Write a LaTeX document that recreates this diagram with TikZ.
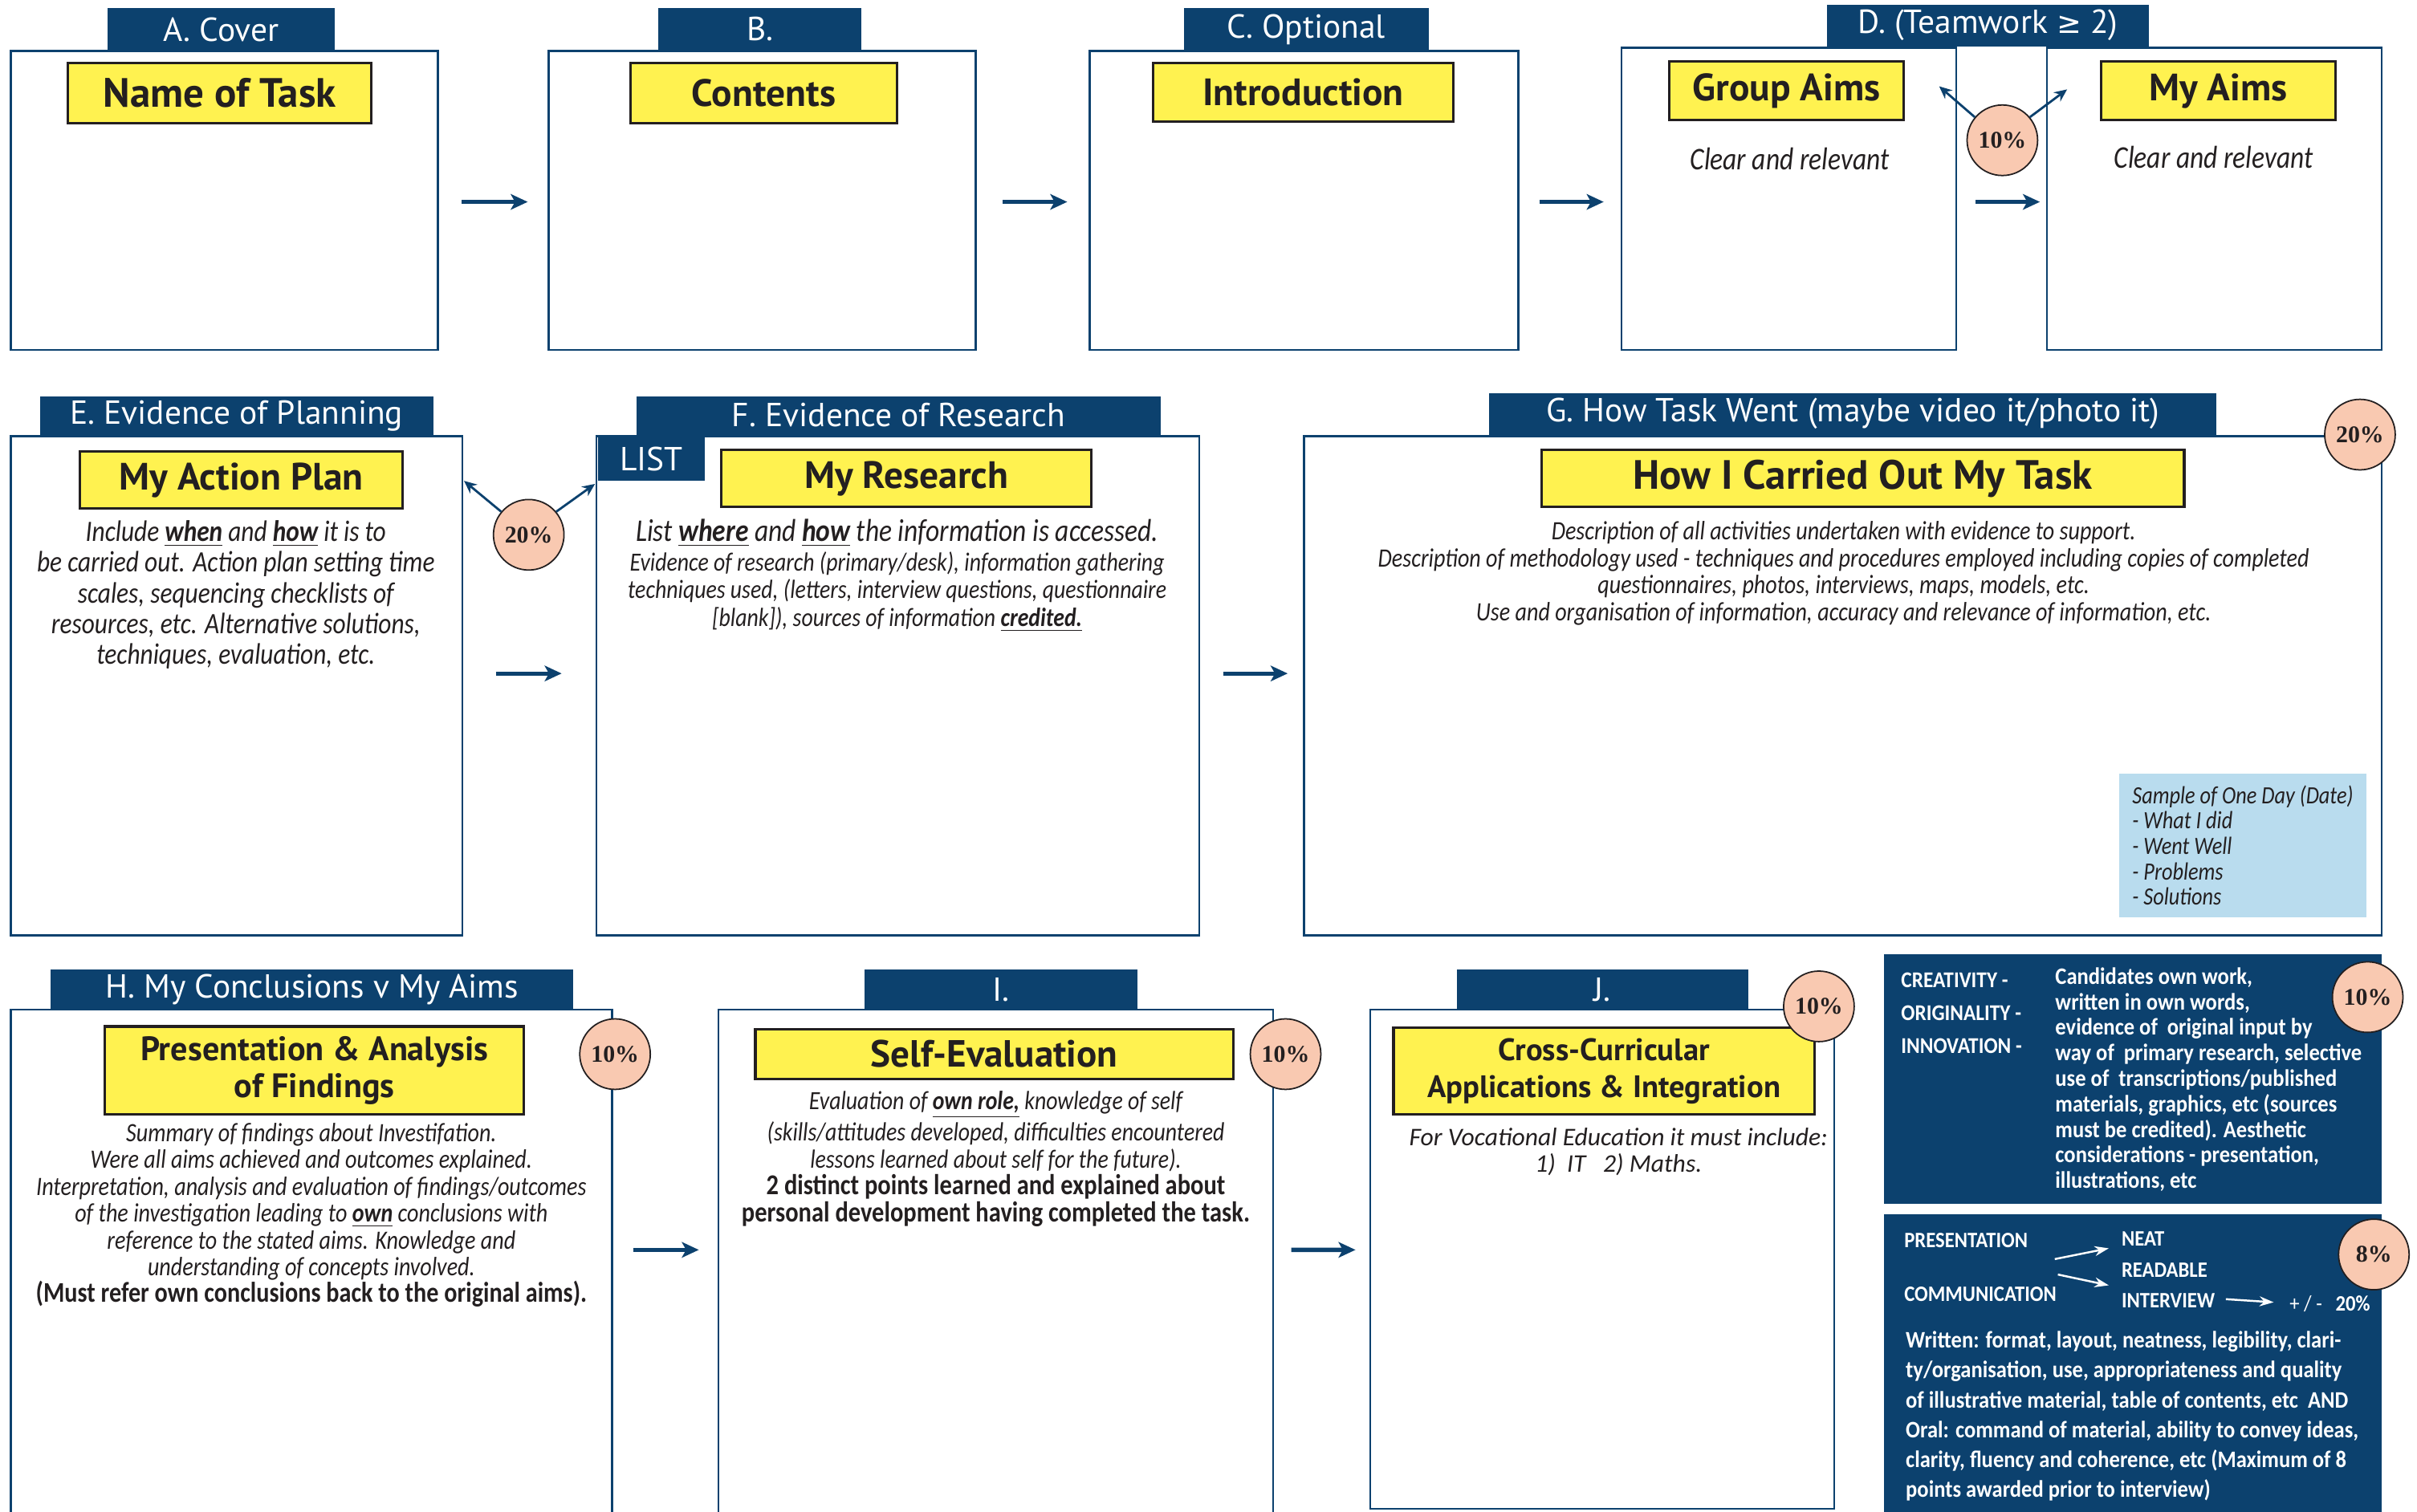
\documentclass[tikz,border=0pt]{standalone}
\usepackage{fontspec}
\usetikzlibrary{fit,calc,arrows.meta}
\setmainfont{Carlito}
\newfontfamily\hdf{PT Sans}
\newfontfamily\bodyf{Carlito}[FakeStretch=0.85]
\newfontfamily\condf{Carlito}[FakeStretch=0.9]
\newfontfamily\pctf{Liberation Serif}
\newfontfamily\symf{DejaVu Sans}
\definecolor{navy}{RGB}{12,65,110}
\definecolor{yel}{RGB}{255,242,80}
\definecolor{ink}{RGB}{35,31,32}
\definecolor{peach}{RGB}{249,201,177}
\definecolor{skyb}{RGB}{185,220,238}
\newcommand\ub[1]{\underline{\textbf{#1}}}
\tikzset{
  hdr/.style={fill=navy, inner sep=0pt},
  htxt/.style={text=white, inner sep=0pt, font=\hdf\fontsize{11.8}{13}\selectfont},
  frame/.style={draw=navy, line width=0.7pt, fill=white, inner sep=0pt},
  ybox/.style={draw=ink, line width=0.9pt, fill=yel, inner sep=0pt},
  ytxt/.style={inner sep=0pt, text=ink, align=center, font=\hdf\bfseries\fontsize{13.5}{15}\selectfont},
  pct/.style={circle, draw=ink, line width=0.5pt, fill=peach, minimum size=25pt, inner sep=0pt,
    text=ink, font=\pctf\bfseries\fontsize{8.5}{10}\selectfont},
  arr/.style={draw=navy, line width=1.5pt, -{Stealth[length=6pt,width=5.5pt,inset=1.5pt]}},
  tarr/.style={draw=navy, line width=0.8pt, -{Stealth[length=4.5pt,width=4pt]}},
  warr/.style={draw=white, line width=0.7pt, -{Stealth[length=5pt,width=3.5pt]}},
  body/.style={text=ink, align=center, inner sep=0pt},
  wtxt/.style={text=white, inner sep=0pt, align=left},
}
\begin{document}
\begin{tikzpicture}[x=0.019203cm,y=-0.019203cm]
\useasboundingbox (0,0) rectangle (1568,981);
\clip (0,0) rectangle (1568,981);
% ---------------- Row 1 ----------------
\node[frame, fit={(7,33)(284,227)}] (A) {};
\node[hdr, fit={(70,5)(217,33)}] (Ah) {};
\node[htxt] (Ahx) at (Ah.center) {A. Cover};
\node[ybox, fit={(44,41)(241,80)}] (At) {};
\node[ytxt, font=\hdf\bfseries\fontsize{14.5}{16}\selectfont] (Atx) at (At.center) {Name of Task};

\node[frame, fit={(356,33)(633,227)}] (B) {};
\node[hdr, fit={(427,5)(559,33)}] (Bh) {};
\node[htxt] (Bhx) at (Bh.center) {B.};
\node[ybox, fit={(409,41)(582,80)}] (Bt) {};
\node[ytxt] (Btx) at (Bt.center) {Contents};

\node[frame, fit={(707,33)(985,227)}] (C) {};
\node[hdr, fit={(768,5)(927,33)}] (Ch) {};
\node[htxt] (Chx) at (Ch.center) {C. Optional};
\node[ybox, fit={(748,41)(943,79)}] (Ct) {};
\node[ytxt] (Ctx) at (Ct.center) {Introduction};

\node[frame, fit={(1052,31)(1269,227)}] (DG) {};
\node[frame, fit={(1328,31)(1545,227)}] (DM) {};
\node[hdr, fit={(1185,3)(1394,30)}] (Dh) {};
\node[htxt] (Dhx) at (Dh.center) {D. (Teamwork {\symf\fontsize{10.5}{12}\selectfont≥} 2)};
\node[ybox, fit={(1083,40)(1235,78)}] (DGt) {};
\node[ytxt] (DGtx) at (DGt.center) {Group Aims};
\node[ybox, fit={(1363,40)(1515,78)}] (DMt) {};
\node[ytxt] (DMtx) at (DMt.center) {My Aims};
\node[body, font=\bodyf\itshape\fontsize{11.2}{12}\selectfont] (DGb) at (1161,103) {Clear and relevant};
\node[body, font=\bodyf\itshape\fontsize{11.2}{12}\selectfont] (DMb) at (1436,102) {Clear and relevant};
\node[pct] (pD) at (1299,91) {10\%};
\coordinate (cD1) at (1258,56);
\coordinate (cD2) at (1341,58);
\draw[tarr] (pD.140) -- (cD1);
\draw[tarr] (pD.40) -- (cD2);

\draw[arr] ($(A.east)+(15,1)$) -- ($(B.west)+(-13,1)$);
\draw[arr] ($(B.east)+(17,1)$) -- ($(C.west)+(-14,1)$);
\draw[arr] ($(C.east)+(13,1)$) -- ($(DG.west)+(-11,2)$);
\draw[arr] ($(DG.east)+(12,2)$) -- ($(DM.west)+(-4,2)$);

% ---------------- Row 2 ----------------
\node[frame, fit={(7,283)(300,607)}] (E) {};
\node[hdr, fit={(26,257)(281,283)}] (Eh) {};
\node[htxt] (Ehx) at (Eh.center) {E. Evidence of Planning};
\node[ybox, fit={(52,293)(261,330)}] (Et) {};
\node[ytxt] (Etx) at (Et.center) {My Action Plan};
\node[body, font=\bodyf\itshape\fontsize{10.5}{10.9}\selectfont] (Eb) at (153,386)
  {Include \ub{when} and \ub{how} it is to\\ be carried out. Action plan setting time\\ scales, sequencing checklists of\\ resources, etc. Alternative solutions,\\ techniques, evaluation, etc.};
\node[pct] (pE) at (343,347) {20\%};
\coordinate (cE1) at (301,312);
\coordinate (cE2) at (386,314);
\draw[tarr] (pE.140) -- (cE1);
\draw[tarr] (pE.40) -- (cE2);

\node[frame, fit={(387,283)(778,607)}] (F) {};
\node[hdr, fit={(413,257)(753,282)}] (Fh) {};
\node[htxt] (Fhx) at (Fh.center) {F. Evidence of Research};
\node[hdr, fit={(388,284)(457,312)}] (FL) {};
\node[htxt] (FLx) at (FL.center) {LIST};
\node[ybox, fit={(468,292)(708,329)}] (Ft) {};
\node[ytxt] (Ftx) at (Ft.center) {My Research};
\node[body, font=\bodyf\itshape\fontsize{11.2}{12}\selectfont] (Fb1) at (582,346)
  {List \ub{where} and \ub{how} the information is accessed.};
\node[body, font=\bodyf\itshape\fontsize{9.3}{9.8}\selectfont] (Fb2) at (582,384)
  {Evidence of research (primary/desk), information gathering\\ techniques used, (letters, interview questions, questionnaire\\{}[blank]), sources of information \ub{credited.}};

\node[frame, fit={(846,283)(1545,607)}] (G) {};
\node[hdr, fit={(966,255)(1438,282)}] (Gh) {};
\node[htxt] (Ghx) at (Gh.center) {G. How Task Went (maybe video it/photo it)};
\node[ybox, fit={(1000,292)(1417,329)}] (Gt) {};
\node[ytxt, font=\hdf\bfseries\fontsize{14.5}{16}\selectfont] (Gtx) at (Gt.center) {How I Carried Out My Task};
\node[body, font=\bodyf\itshape\fontsize{9.4}{9.5}\selectfont] (Gb) at (1196,372)
  {Description of all activities undertaken with evidence to support.\\ Description of methodology used - techniques and procedures employed including copies of completed\\ questionnaires, photos, interviews, maps, models, etc.\\ Use and organisation of information, accuracy and relevance of information, etc.};
\node[fill=skyb, inner sep=0pt, fit={(1375,502)(1535,595)}] (GS) {};
\node[body, align=left, anchor=west, font=\bodyf\itshape\fontsize{8.8}{9}\selectfont] (GSt) at (1383,548.5)
  {Sample of One Day (Date)\\ - What I did\\ - Went Well\\ - Problems\\ - Solutions};
\node[pct] (pG) at (1531,282) {20\%};

\draw[arr] ($(E.east)+(21,-8)$) -- ($(F.west)+(-22,-8)$);
\draw[arr] ($(F.east)+(15,-8)$) -- ($(G.west)+(-10,-8)$);

% ---------------- Row 3 ----------------
\node[frame, fit={(7,655)(397,1000)}] (H) {};
\node[hdr, fit={(33,629)(372,655)}] (Hh) {};
\node[htxt] (Hhx) at (Hh.center) {H. My Conclusions v My Aims};
\node[ybox, fit={(68,666)(340,723)}] (Ht) {};
\node[ytxt, font=\hdf\bfseries\fontsize{12}{13}\selectfont] (Htx) at (Ht.center) {Presentation \& Analysis\\of Findings};
\node[body, font=\bodyf\itshape\fontsize{9.4}{9.5}\selectfont] (Hb) at (202,788.5)
  {Summary of findings about Investifation.\\ Were all aims achieved and outcomes explained.\\ Interpretation, analysis and evaluation of findings/outcomes\\ of the investigation leading to \ub{own} conclusions with\\ reference to the stated aims. Knowledge and\\ understanding of concepts involved.\\ {\upshape\bfseries\fontsize{10.1}{9.5}\selectfont (Must refer own conclusions back to the original aims).}};
\node[pct] (pH) at (399,684) {10\%};

\node[frame, fit={(466,655)(826,1000)}] (I) {};
\node[hdr, fit={(561,629)(738,655)}] (Ih) {};
\node[htxt] (Ihx) at (Ih.center) {I.};
\node[ybox, fit={(490,668)(800,700)}] (It) {};
\node[ytxt, font=\hdf\bfseries\fontsize{13.4}{15}\selectfont] (Itx) at (It.center) {Self-Evaluation};
\node[body, font=\bodyf\itshape\fontsize{9.3}{9.6}\selectfont] (Ib) at (646,752)
  {Evaluation of \ub{own role,} knowledge of self\\ (skills/attitudes developed, difficulties encountered\\ lessons learned about self for the future).\\ {\upshape\bfseries\fontsize{10.2}{9.6}\selectfont 2 distinct points learned and explained about}\\ {\upshape\bfseries\fontsize{10.2}{9.6}\selectfont personal development having completed the task.}};
\node[pct] (pI) at (834,684) {10\%};

\node[frame, fit={(889,655)(1190,979)}] (J) {};
\node[hdr, fit={(945,629)(1134,655)}] (Jh) {};
\node[htxt] (Jhx) at (Jh.center) {J.};
\node[ybox, fit={(904,667)(1177,723)}] (Jt) {};
\node[ytxt, font=\hdf\bfseries\fontsize{11}{13}\selectfont] (Jtx) at (Jt.center) {Cross-Curricular\\Applications \& Integration};
\node[body, font=\itshape\fontsize{9}{9.4}\selectfont] (Jb) at (1050,747.5)
  {For Vocational Education it must include:\\ 1)\ \ IT\ \ \ 2) Maths.};
\node[pct] (pJ) at (1180,653) {10\%};

\draw[arr] ($(H.east)+(13,-16.5)$) -- ($(I.west)+(-12,-16.5)$);
\draw[arr] ($(I.east)+(11,-16.5)$) -- ($(J.west)+(-9,-6)$);

% ---------------- Right panels ----------------
\node[fill=navy, inner sep=0pt, fit={(1222,619)(1545,781)}] (R1) {};
\node[wtxt, anchor=west, font=\condf\bfseries\fontsize{8}{11.7}\selectfont] (R1a) at (1233,657.5)
  {CREATIVITY -\\ ORIGINALITY -\\ INNOVATION -};
\node[wtxt, anchor=west, font=\condf\bfseries\fontsize{8.4}{9.05}\selectfont] (R1b) at (1333,700.5)
  {Candidates own work,\\ written in own words,\\ evidence of\ \ original input by\\ way of\ \ primary research, selective\\ use of\ \ transcriptions/published\\ materials, graphics, etc (sources\\ must be credited). Aesthetic\\ considerations - presentation,\\ illustrations, etc};
\node[pct] (pR1) at (1536,647) {10\%};

\node[fill=navy, inner sep=0pt, fit={(1222,788)(1545,1000)}] (R2) {};
\begin{scope}[every node/.style={wtxt, anchor=west, font=\condf\bfseries\fontsize{7.8}{10}\selectfont}]
\node (RP) at (1235,805) {PRESENTATION};
\node (RC) at (1235,840) {COMMUNICATION};
\node (RN) at (1376,804) {NEAT};
\node (RR) at (1376,824) {READABLE};
\node (RI) at (1376,844) {INTERVIEW};
\node (RX) at (1485,846) {{\mdseries + / -}\ \ \ 20\%};
\end{scope}
\draw[warr] ($(RP.west)+(98,12)$) -- ($(RN.west)+(-8,6)$);
\draw[warr] ($(RC.west)+(100,-13)$) -- ($(RR.west)+(-8,10)$);
\draw[warr] ($(RI.west)+(68,-1)$) -- ($(RX.west)+(-10,-1)$);
\node[wtxt, anchor=west, font=\condf\bfseries\fontsize{8.4}{10.6}\selectfont] (R2b) at (1236,919)
  {Written: format, layout, neatness, legibility, clari-\\ ty/organisation, use, appropriateness and quality\\ of illustrative material, table of contents, etc\ \ AND\\ Oral: command of material, ability to convey ideas,\\ clarity, fluency and coherence, etc (Maximum of 8\\ points awarded prior to interview)};
\node[pct] (pR2) at (1540,814) {8\%};
\end{tikzpicture}
\end{document}
